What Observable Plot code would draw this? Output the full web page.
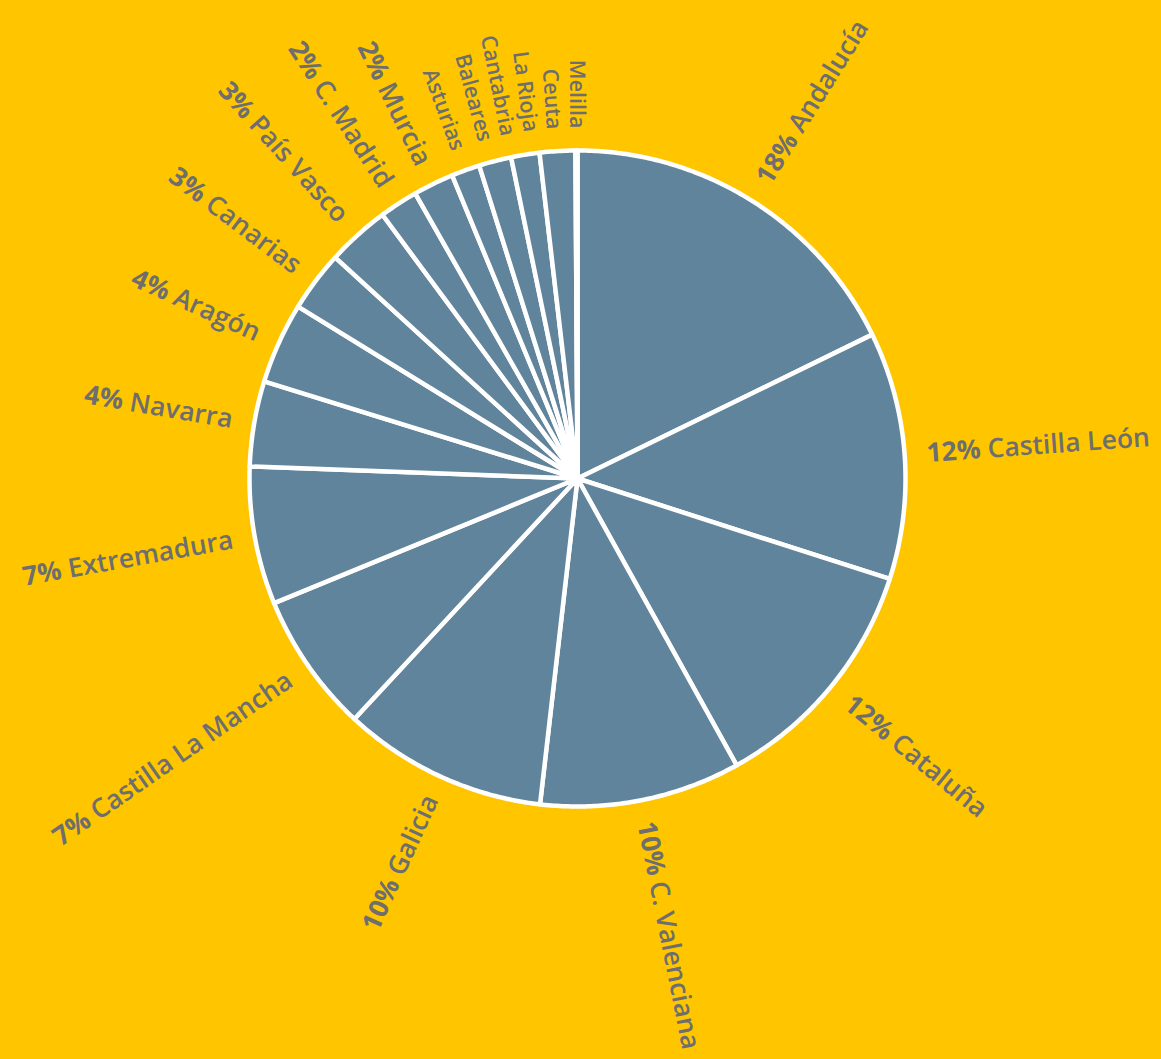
<!DOCTYPE html>
<html>
<head>
<meta charset="utf-8">
<script src="https://cdn.jsdelivr.net/npm/d3@7"></script>
<script src="https://cdn.jsdelivr.net/npm/@observablehq/plot@0.6"></script>
<style>
  html, body { margin: 0; padding: 0; background: #ffc600; overflow: hidden; }
  #chart svg { display: block; }
</style>
</head>
<body>
<div id="chart"></div>
<script>
// Regions in clockwise order starting at 12 o'clock
const regions = ["Andalucía", "Castilla León", "Cataluña", "C. Valenciana", "Galicia",
  "Castilla La Mancha", "Extremadura", "Navarra", "Aragón", "Canarias", "País Vasco",
  "C. Madrid", "Murcia", "Asturias", "Baleares", "Cantabria", "La Rioja", "Ceuta", "Melilla"];
// Share of the total (%)
const shares = [17.8, 12.2, 12.0, 9.9, 10.1, 6.9, 6.8, 4.2, 4.0, 3.0, 3.1,
  1.9, 2.0, 1.4, 1.6, 1.4, 1.75, 0.05, 0.05];

const W = 1161, H = 1059;
const CX = 577, CY = 478, R = 328;       // pie centre and radius in pixels
const LABEL_R = 350 / R;                  // label radius (in radius units)
const MIN_GAP = 3.8;                      // minimum angular gap between labels (deg)
const PCT_MIN = 1.85;                     // show the percentage only for slices at least this big

const total = d3.sum(shares);
const arcs = d3.pie().sort(null).value(d => d)(shares);

// Slice outlines (in radius units, y up)
const slicePts = [];
arcs.forEach((a, i) => {
  const name = regions[i];
  slicePts.push({name, x: 0, y: 0});
  const n = Math.max(2, Math.ceil((a.endAngle - a.startAngle) / (Math.PI / 360)));
  for (let k = 0; k <= n; k++) {
    const t = a.startAngle + (a.endAngle - a.startAngle) * k / n;
    slicePts.push({name, x: Math.sin(t), y: Math.cos(t)});
  }
  slicePts.push({name, x: 0, y: 0});
});

// Label angles (deg), spread so that the narrow slices near the top do not collide
const labelAng = arcs.map(a => (a.startAngle + a.endAngle) / 2 * 180 / Math.PI);
for (let i = labelAng.length - 2; i >= 0; i--) {
  if (labelAng[i] > 180) labelAng[i] = Math.min(labelAng[i], labelAng[i + 1] - MIN_GAP);
}
const labels = regions.map((name, i) => {
  const pct = shares[i] / total * 100;
  const showPct = pct >= PCT_MIN;
  const th = labelAng[i];
  const rad = th * Math.PI / 180;
  return {
    name,
    text: showPct ? `${Math.round(pct)}% ${name}` : name,
    x: Math.sin(rad) * LABEL_R,
    y: Math.cos(rad) * LABEL_R,
    rotate: th < 180 ? th - 90 : th + 90,
    right: th < 180,
    size: showPct ? 26.5 : 21.5
  };
});

const textOpts = {
  x: "x", y: "y", text: "text", rotate: "rotate", fontSize: "size",
  fill: "#6e6e6e", fontFamily: "Open Sans", fontWeight: 600, lineAnchor: "middle"
};

const chart = Plot.plot({
  width: W, height: H,
  margin: 0,
  style: {background: "#ffc600", fontFamily: "Open Sans"},
  x: {type: "linear", domain: [-CX / R, (W - CX) / R], range: [0, W], axis: null},
  y: {type: "linear", domain: [-(H - CY) / R, CY / R], range: [H, 0], axis: null},
  marks: [
    Plot.line(slicePts, {x: "x", y: "y", z: "name", fill: "#60849b", stroke: "#ffffff",
      strokeWidth: 4.5, strokeLinejoin: "round", curve: "linear"}),
    Plot.text(labels.filter(d => d.right), {...textOpts, textAnchor: "start"}),
    Plot.text(labels.filter(d => !d.right), {...textOpts, textAnchor: "end"})
  ]
});

// Bold percentage, semibold region name
d3.select(chart).selectAll("text").each(function () {
  const t = this.textContent;
  const m = t.match(/^(\d+%)\s(.*)$/);
  if (!m) return;
  const sel = d3.select(this);
  sel.text(null);
  sel.append("tspan").attr("font-weight", 700).text(m[1]);
  sel.append("tspan").text(" " + m[2]);
});

document.getElementById("chart").appendChild(chart);
</script>
</body>
</html>
